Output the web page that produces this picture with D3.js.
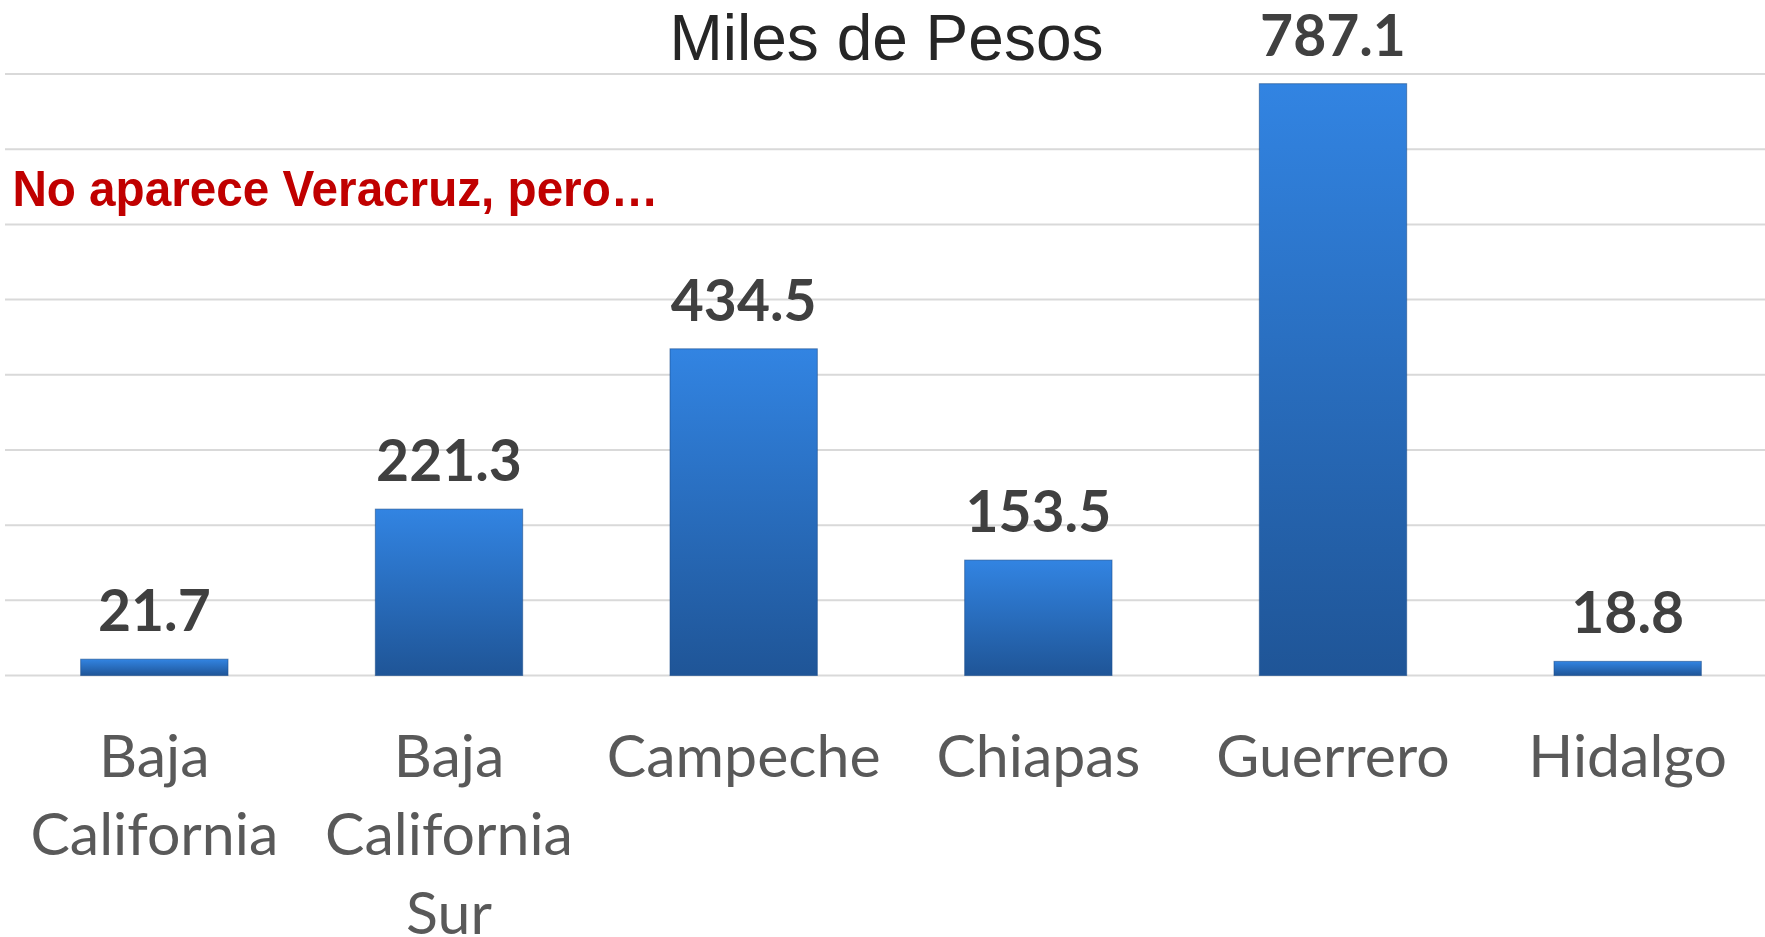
<!DOCTYPE html>
<html>
<head>
<meta charset="utf-8">
<script src="https://cdn.jsdelivr.net/npm/d3@7"></script>
<style>
    body { margin: 0; background: #fff; overflow: hidden; }
</style>
</head>
<body>
<div id="chart"></div>
<script>
const categories = ['Baja California', 'Baja California Sur', 'Campeche', 'Chiapas', 'Guerrero', 'Hidalgo'];
const labelLines = [['Baja', 'California'], ['Baja', 'California', 'Sur'], ['Campeche'], ['Chiapas'], ['Guerrero'], ['Hidalgo']];
const values = [21.7, 221.3, 434.5, 153.5, 787.1, 18.8];
const yDomain = [0, 800];
const title = 'Miles de Pesos';
const note = 'No aparece Veracruz, pero…';

const width = 1765;
const height = 937;

const svg = d3.select('#chart')
    .append('svg')
    .attr('width', width)
    .attr('height', height);

// bar gradient
const grad = svg.append('defs')
    .append('linearGradient')
    .attr('id', 'barGrad')
    .attr('x1', '0%').attr('x2', '0%')
    .attr('y1', '0%').attr('y2', '100%');
grad.append('stop').attr('offset', '0%').attr('stop-color', '#3284e2');
grad.append('stop').attr('offset', '100%').attr('stop-color', '#1f5597');

const x = d3.scaleBand()
    .domain(categories)
    .range([7, 1775])
    .paddingInner(0.5)
    .paddingOuter(0.25);

const y = d3.scaleLinear()
    .domain(yDomain)
    .range([675.5, 74]);

// gridlines
svg.append('g')
    .selectAll('line')
    .data(y.ticks(8))
    .enter()
    .append('line')
    .attr('x1', 5)
    .attr('x2', width)
    .attr('y1', (d) => y(d))
    .attr('y2', (d) => y(d))
    .attr('stroke', '#d9d9d9')
    .attr('stroke-width', 2);

// bars
svg.append('g')
    .selectAll('rect')
    .data(values)
    .enter()
    .append('rect')
    .attr('x', (d, i) => x(categories[i]))
    .attr('y', (d) => y(d))
    .attr('width', x.bandwidth())
    .attr('height', (d) => y(0) - y(d))
    .attr('fill', 'url(#barGrad)')
    .attr('stroke', '#1d4f8c')
    .attr('stroke-opacity', 0.6)
    .attr('stroke-width', 1);

// value labels
svg.append('g')
    .selectAll('text')
    .data(values)
    .enter()
    .append('text')
    .attr('x', (d, i) => x(categories[i]) + x.bandwidth() / 2)
    .attr('y', (d) => y(d) - 28)
    .attr('text-anchor', 'middle')
    .attr('font-family', 'Lato, sans-serif')
    .attr('font-weight', 'bold')
    .attr('font-size', 57)
    .attr('fill', '#404040')
    .text((d) => d.toFixed(1));

// category labels
const catG = svg.append('g');
labelLines.forEach((lines, i) => {
    const t = catG.append('text')
        .attr('x', x(categories[i]) + x.bandwidth() / 2)
        .attr('y', y(0) + 101)
        .attr('text-anchor', 'middle')
        .attr('font-family', 'Lato, sans-serif')
        .attr('font-size', 59)
        .attr('fill', '#595959');
    lines.forEach((line, j) => {
        t.append('tspan')
            .attr('x', x(categories[i]) + x.bandwidth() / 2)
            .attr('dy', j === 0 ? 0 : 78.8)
            .text(line);
    });
});

// title
svg.append('text')
    .attr('x', 886.5)
    .attr('y', 59.7)
    .attr('text-anchor', 'middle')
    .attr('font-family', '"Liberation Sans", Arial, sans-serif')
    .attr('font-size', 64)
    .attr('fill', '#262626')
    .text(title);

// red note
svg.append('text')
    .attr('x', 12.4)
    .attr('y', 206)
    .attr('font-family', '"Liberation Sans", Arial, sans-serif')
    .attr('font-weight', 'bold')
    .attr('font-size', 50)
    .attr('textLength', 646)
    .attr('lengthAdjust', 'spacingAndGlyphs')
    .attr('fill', '#c00000')
    .text(note);
</script>
</body>
</html>
